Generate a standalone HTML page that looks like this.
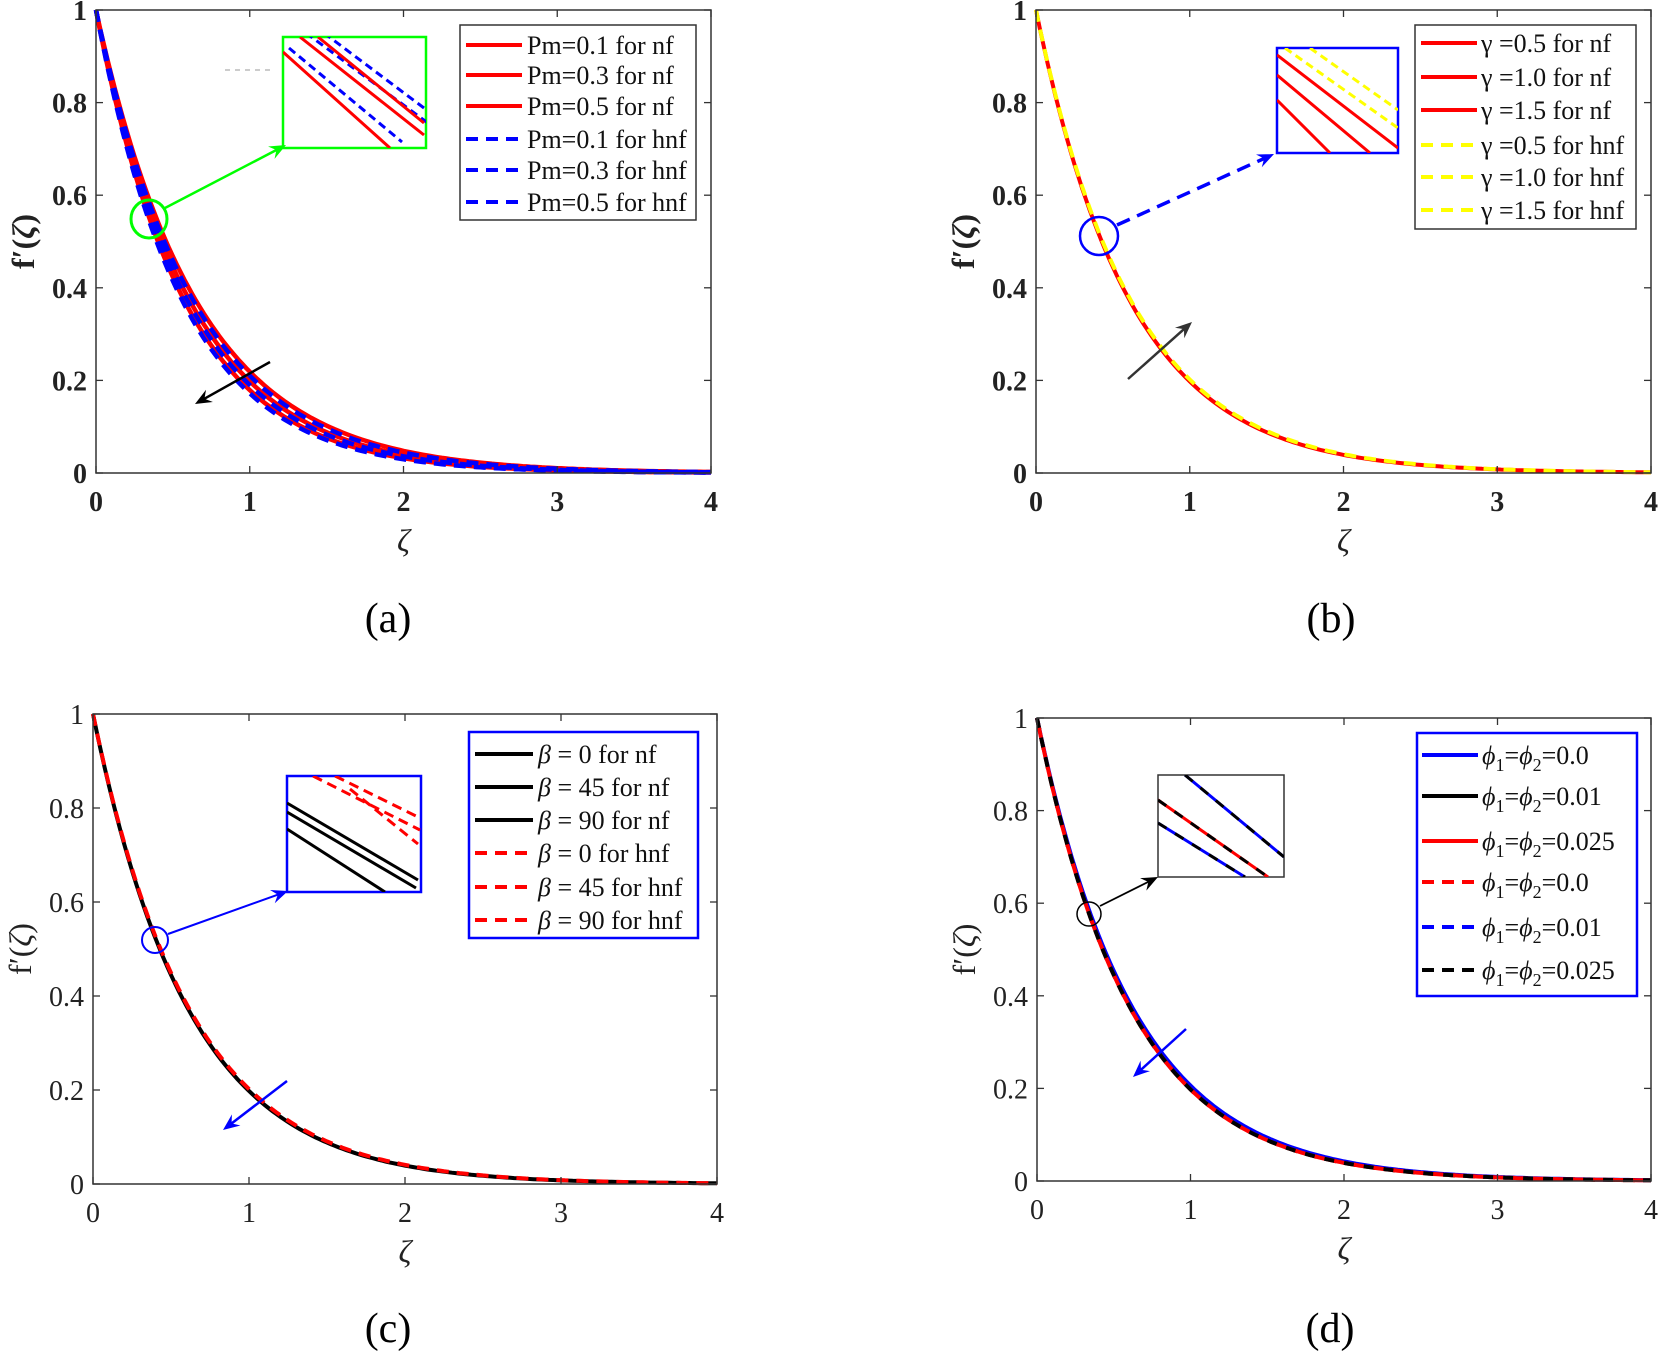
<!DOCTYPE html>
<html><head><meta charset="utf-8"><style>
html,body{margin:0;padding:0;background:#fff;}
svg{display:block;font-family:"Liberation Serif",serif;}
</style></head><body>
<svg id="s" width="1658" height="1357" viewBox="0 0 1658 1357" xmlns="http://www.w3.org/2000/svg"></svg>
<script>
const S=document.getElementById('s');let h='';
h+=`<defs><clipPath id="ca"><rect x="283" y="37" width="143" height="111"/></clipPath><clipPath id="cb"><rect x="1277" y="48" width="121" height="105"/></clipPath><clipPath id="cc"><rect x="287" y="776" width="134" height="116"/></clipPath><clipPath id="cd"><rect x="1158" y="775" width="126" height="102"/></clipPath></defs>`;
function curve(x0,x4,y0,y1,k,xs,xe){let p=[];for(let i=0;i<=160;i++){let t=xs+(xe-xs)*i/160;let v=Math.exp(-k*t);p.push((x0+(x4-x0)*t/4).toFixed(1)+','+(y0-(y0-y1)*v).toFixed(1));}return p.join(' ');}
function axes(x0,x4,y0,y1,bold){
 const w=bold?'bold':'normal';
 h+=`<rect x="${x0}" y="${y1}" width="${x4-x0}" height="${y0-y1}" fill="none" stroke="#333" stroke-width="1.5"/>`;
 for(let i=0;i<=4;i++){let x=x0+(x4-x0)*i/4;h+=`<line x1="${x}" y1="${y0}" x2="${x}" y2="${y0-7}" stroke="#333" stroke-width="1.3"/><line x1="${x}" y1="${y1}" x2="${x}" y2="${y1+7}" stroke="#333" stroke-width="1.3"/>`;
 h+=`<text x="${x}" y="${y0+38}" font-size="28" font-weight="${w}" text-anchor="middle" fill="#222">${i}</text>`;}
 const lab=['0','0.2','0.4','0.6','0.8','1'];
 for(let i=0;i<=5;i++){let y=y0-(y0-y1)*i/5;h+=`<line x1="${x0}" y1="${y}" x2="${x0+7}" y2="${y}" stroke="#333" stroke-width="1.3"/><line x1="${x4}" y1="${y}" x2="${x4-7}" y2="${y}" stroke="#333" stroke-width="1.3"/>`;
 h+=`<text x="${x0-9}" y="${y+10}" font-size="28" font-weight="${w}" text-anchor="end" fill="#222">${lab[i]}</text>`;}
 h+=`<text x="${(x0+x4)/2}" y="${y0+78}" font-size="32" font-style="italic" text-anchor="middle" fill="#222">ζ</text>`;
 let cy=(y0+y1)/2;h+=`<text transform="translate(${x0-62},${cy}) rotate(-90)" font-size="32" font-weight="${w}" text-anchor="middle" fill="#222">f′(<tspan font-style="italic">ζ</tspan>)</text>`;
}
function line(pts,col,dash,wd){h+=`<polyline points="${pts}" fill="none" stroke="${col}" stroke-width="${wd||4}" ${dash?'stroke-dasharray="12,8"':''}/>`;}
function arrow(xa,ya,xb,yb,col,wd,dash){let a=Math.atan2(yb-ya,xb-xa),L=18;
 h+=`<line x1="${xa}" y1="${ya}" x2="${xb-Math.cos(a)*6}" y2="${yb-Math.sin(a)*6}" stroke="${col}" stroke-width="${wd}" ${dash?'stroke-dasharray="14,8"':''}/>`;
 let p1=[xb-L*Math.cos(a-0.4),yb-L*Math.sin(a-0.4)],p2=[xb-L*Math.cos(a+0.4),yb-L*Math.sin(a+0.4)],pm=[xb-L*0.6*Math.cos(a),yb-L*0.6*Math.sin(a)];
 h+=`<polygon points="${xb},${yb} ${p1} ${pm} ${p2}" fill="${col}"/>`;}
function legend(x,y,w,hh,border,rows,sx1,sx2,tx,fs){
 h+=`<rect x="${x}" y="${y}" width="${w}" height="${hh}" fill="#fff" stroke="${border}" stroke-width="${border=='#333'?1.5:2.5}"/>`;
 rows.forEach(r=>{h+=`<line x1="${sx1}" y1="${r[0]}" x2="${sx2}" y2="${r[0]}" stroke="${r[1]}" stroke-width="4" ${r[2]?'stroke-dasharray="12,8"':''}/>`;
 h+=`<text x="${tx}" y="${r[0]+9}" font-size="${fs}" fill="#111">${r[3]}</text>`;});}
// Panel a
(function(){const x0=96,x4=711,y0=473,y1=10;
 [1.52,1.62,1.72].forEach(k=>line(curve(x0,x4,y0,y1,k,0,4),'#f00',false,4.5));
 [1.56,1.66,1.76].forEach(k=>line(curve(x0,x4,y0,y1,k,0,4),'#00f',true,4.5));
 axes(x0,x4,y0,y1,true);
 h+=`<rect x="283" y="37" width="143" height="111" fill="#fff" stroke="#0f0" stroke-width="2.5"/>`;
 h+=`<line x1="225" y1="70" x2="271" y2="70" stroke="#999" stroke-dasharray="5,5"/>`;
 h+=`<g clip-path="url(#ca)">`;
 [[283,52,390,148],[300,37,424,135],[318,37,424,123]].forEach((p,i)=>{h+=`<line x1="${p[0]}" y1="${p[1]}" x2="${p[2]}" y2="${p[3]}" stroke="#f00" stroke-width="3"/><line x1="${p[0]+6}" y1="${p[1]-4}" x2="${p[2]+12}" y2="${p[3]-6}" stroke="#00f" stroke-width="3" stroke-dasharray="8,5"/>`;});
 h+=`</g>`;
 h+=`<ellipse cx="149" cy="219" rx="18" ry="19" fill="none" stroke="#0f0" stroke-width="3"/>`;
 arrow(165,208,286,145,'#0f0',2.5);arrow(270,362,195,404,'#000',2.5);
 legend(460,25,236,195,'#333',[[45,'#f00',0,'Pm=0.1 for nf'],[75,'#f00',0,'Pm=0.3 for nf'],[106,'#f00',0,'Pm=0.5 for nf'],[139,'#00f',1,'Pm=0.1 for hnf'],[170,'#00f',1,'Pm=0.3 for hnf'],[202,'#00f',1,'Pm=0.5 for hnf']],466,522,527,26);
 h+=`<text x="388" y="632" font-size="42" text-anchor="middle">(a)</text>`;})();
// Panel b
(function(){const x0=1036,x4=1651,y0=473,y1=10;
 line(curve(x0,x4,y0,y1,1.62,0,4),'#f00',false,4);line(curve(x0,x4,y0,y1,1.60,0,4),'#ff0',true,4);
 axes(x0,x4,y0,y1,true);
 h+=`<rect x="1277" y="48" width="121" height="105" fill="#fff" stroke="#00f" stroke-width="2.5"/>`;
 h+=`<g clip-path="url(#cb)">`;
 [[1277,100,1330,153],[1277,75,1370,153],[1277,55,1398,148]].forEach(p=>{h+=`<line x1="${p[0]}" y1="${p[1]}" x2="${p[2]}" y2="${p[3]}" stroke="#f00" stroke-width="3"/>`;});
 [[1285,48,1398,128],[1310,48,1398,110]].forEach(p=>{h+=`<line x1="${p[0]}" y1="${p[1]}" x2="${p[2]}" y2="${p[3]}" stroke="#ff0" stroke-width="3" stroke-dasharray="8,5"/>`;});
 h+=`</g>`;
 h+=`<circle cx="1099" cy="236" r="19" fill="none" stroke="#00f" stroke-width="2.5"/>`;
 arrow(1117,225,1274,154,'#00f',3.5,true);arrow(1128,379,1192,322,'#333',2.5);
 legend(1415,25,221,204,'#333',[[43,'#f00',0,'γ =0.5 for nf'],[77,'#f00',0,'γ =1.0 for nf'],[110,'#f00',0,'γ =1.5 for nf'],[145,'#ff0',1,'γ =0.5 for hnf'],[177,'#ff0',1,'γ =1.0 for hnf'],[210,'#ff0',1,'γ =1.5 for hnf']],1421,1477,1481,26);
 h+=`<text x="1331" y="632" font-size="42" text-anchor="middle">(b)</text>`;})();
// Panel c
(function(){const x0=93,x4=717,y0=1184,y1=714;
 line(curve(x0,x4,y0,y1,1.62,0,4),'#000',false,4);line(curve(x0,x4,y0,y1,1.60,0,4),'#f00',true,4);
 axes(x0,x4,y0,y1,false);
 h+=`<rect x="287" y="776" width="134" height="116" fill="#fff" stroke="#00f" stroke-width="2.5"/>`;
 h+=`<g clip-path="url(#cc)">`;
 [[287,829,385,892],[287,812,416,888],[287,803,418,880]].forEach(p=>{h+=`<line x1="${p[0]}" y1="${p[1]}" x2="${p[2]}" y2="${p[3]}" stroke="#000" stroke-width="3"/>`;});
 [[313,776,420,830],[335,776,420,818],[350,789,418,844]].forEach(p=>{h+=`<line x1="${p[0]}" y1="${p[1]}" x2="${p[2]}" y2="${p[3]}" stroke="#f00" stroke-width="3" stroke-dasharray="10,6"/>`;});
 h+=`</g>`;
 h+=`<circle cx="155" cy="940" r="13" fill="none" stroke="#00f" stroke-width="2"/>`;
 arrow(168,934,288,891,'#00f',2);arrow(287,1081,223,1130,'#00f',2.5);
 legend(469,732,229,206,'#00f',[[754,'#000',0,'<tspan font-style="italic">β</tspan> = 0 for nf'],[787,'#000',0,'<tspan font-style="italic">β</tspan> = 45 for nf'],[820,'#000',0,'<tspan font-style="italic">β</tspan> = 90 for nf'],[853,'#f00',1,'<tspan font-style="italic">β</tspan> = 0 for hnf'],[887,'#f00',1,'<tspan font-style="italic">β</tspan> = 45 for hnf'],[920,'#f00',1,'<tspan font-style="italic">β</tspan> = 90 for hnf']],475,533,538,26);
 h+=`<text x="388" y="1342" font-size="42" text-anchor="middle">(c)</text>`;})();
// Panel d
(function(){const x0=1037,x4=1651,y0=1181,y1=718;
 line(curve(x0,x4,y0,y1,1.58,0,4),'#00f',false,4);line(curve(x0,x4,y0,y1,1.62,0,4),'#f00',true,4);line(curve(x0,x4,y0,y1,1.62,0,4),'#000',true,4);
 h+=`<polyline points="${curve(x0,x4,y0,y1,1.62,0,4)}" fill="none" stroke="#f00" stroke-width="4" stroke-dasharray="10,10" stroke-dashoffset="10"/>`;
 axes(x0,x4,y0,y1,false);
 h+=`<rect x="1158" y="775" width="126" height="102" fill="#fff" stroke="#333" stroke-width="1.5"/>`;
 h+=`<g clip-path="url(#cd)">`;
 [[1158,823,1245,877,'#00f'],[1158,800,1268,877,'#f00'],[1185,775,1284,857,'#00f']].forEach(p=>{h+=`<line x1="${p[0]}" y1="${p[1]}" x2="${p[2]}" y2="${p[3]}" stroke="${p[4]}" stroke-width="3"/><line x1="${p[0]}" y1="${p[1]}" x2="${p[2]}" y2="${p[3]}" stroke="${p[4]=='#00f'?'#000':'#f00'}" stroke-width="3" stroke-dasharray="10,10"/>`;});
 h+=`<line x1="1158" y1="800" x2="1268" y2="877" stroke="#000" stroke-width="3" stroke-dasharray="10,10"/>`;
 h+=`</g>`;
 h+=`<circle cx="1089" cy="914" r="12" fill="none" stroke="#000" stroke-width="1.5"/>`;
 arrow(1100,906,1158,877,'#000',1.8);arrow(1186,1029,1133,1077,'#00f',2.5);
 const f='<tspan font-style="italic">ϕ</tspan><tspan font-size="18" dy="7">1</tspan><tspan dy="-7">=</tspan><tspan font-style="italic">ϕ</tspan><tspan font-size="18" dy="7">2</tspan><tspan dy="-7">';
 legend(1417,733,220,263,'#00f',[[755,'#00f',0,f+'=0.0</tspan>'],[796,'#000',0,f+'=0.01</tspan>'],[841,'#f00',0,f+'=0.025</tspan>'],[882,'#f00',1,f+'=0.0</tspan>'],[927,'#00f',1,f+'=0.01</tspan>'],[970,'#000',1,f+'=0.025</tspan>']],1422,1478,1482,26);
 h+=`<text x="1330" y="1342" font-size="42" text-anchor="middle">(d)</text>`;})();
S.innerHTML=h;
</script>
</body></html>
